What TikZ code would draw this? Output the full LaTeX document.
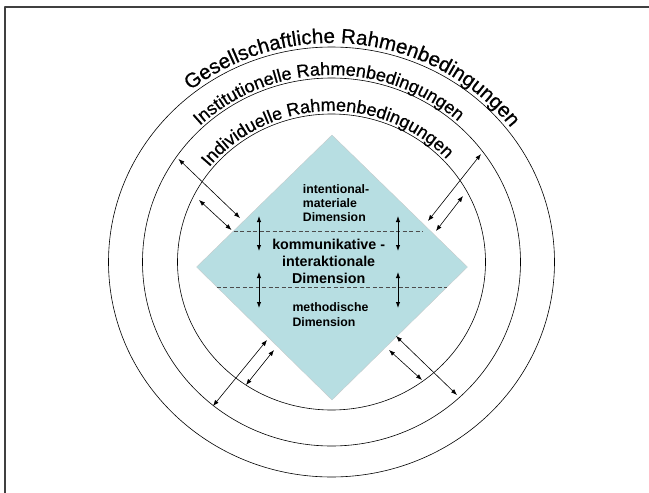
\documentclass[tikz,border=0pt]{standalone}
\usepackage{fontspec}
\setmainfont{Liberation Sans}
\newfontfamily\arcfont[FakeBold=0.6]{Liberation Sans}
\usetikzlibrary{decorations.text,arrows.meta}
\definecolor{diamondfill}{RGB}{183,222,226}

\newcommand{\printArc}[5]{\path [decorate, decoration={text along path, text align=center,
    text={|\arcfont\fontsize{#4}{#4}\selectfont|#5}}]
  (ctr) ++({#3+75}:#1 and #2) arc [start angle={#3+75}, end angle={#3-75}, x radius=#1, y radius=#2];}

\begin{document}
\begin{tikzpicture}[x=1pt,y=1pt,line join=round,>={Latex[length=6pt,width=4.5pt]},
    dimtext/.style={inner sep=0pt,font=\fontsize{12.3}{14.1}\selectfont\bfseries},
    dimsep/.style={draw=black!70,line width=0.7pt,dash pattern=on 4pt off 2.5pt},
    link/.style={<->,line width=0.6pt},
    vlink/.style={<->,line width=1pt}]
  \useasboundingbox (0,0) rectangle (649,-493);
  \coordinate (ctr) at (331.5,-262);
  \draw [line width=1.5pt,black!75] (5,-493) -- (5,-7) -- (649,-7);

  % diamond
  \coordinate (dtop) at (332,-135);
  \coordinate (dright) at (467.5,-267);
  \coordinate (dbottom) at (332,-400);
  \coordinate (dleft) at (196.5,-267);
  \filldraw [fill=diamondfill, draw=gray!45, line width=0.3pt] (dtop) -- (dright) -- (dbottom) -- (dleft) -- cycle;
  \coordinate (sepAl) at (233.5,-231.7);
  \coordinate (sepAr) at (423,-231.7);
  \coordinate (sepBl) at (216.5,-287.7);
  \coordinate (sepBr) at (446.5,-287.7);
  \draw [dimsep] (sepAl) -- (sepAr);
  \draw [dimsep] (sepBl) -- (sepBr);

  % rings
  \foreach \rx/\ry in {223/215,189/184,154/148} {
      \draw [line width=0.6pt] (ctr) ellipse [x radius=\rx, y radius=\ry];
    }
  \printArc{227}{219}{83}{20.5}{Gesellschaftliche Rahmenbedingungen}
  \printArc{192}{187}{91}{18}{Institutionelle Rahmenbedingungen}
  \printArc{157}{151}{92}{18}{Individuelle Rahmenbedingungen}

  % dimensions (base = last line)
  \node [dimtext, align=left, anchor=base west] (intent) at (302.7,-221.7) {intentional-\\materiale\\Dimension};
  \node [dimtext, align=center, anchor=base, font=\fontsize{14.3}{17.1}\selectfont\bfseries] (komm) at (328.7,-283.3) {kommunikative -\\interaktionale\\Dimension};
  \node [dimtext, align=left, anchor=base west, font=\fontsize{12.3}{15.6}\selectfont\bfseries] (meth) at (292.3,-326.7) {methodische\\Dimension};

  % arrows
  \coordinate (vla1) at (259,-216);  \coordinate (vla2) at (259,-251);
  \coordinate (vlb1) at (259,-272);  \coordinate (vlb2) at (259,-308);
  \coordinate (vra1) at (398,-216);  \coordinate (vra2) at (398,-251);
  \coordinate (vrb1) at (398,-272);  \coordinate (vrb2) at (398,-308);
  \foreach \a/\b in {vla1/vla2,vlb1/vlb2,vra1/vra2,vrb1/vrb2} {
      \draw [vlink] (\a) -- (\b);
    }
  \coordinate (ulo1) at (178.5,-159);  \coordinate (ulo2) at (240,-218);
  \coordinate (uli1) at (199,-200);    \coordinate (uli2) at (231.5,-230);
  \coordinate (uro1) at (481,-154);    \coordinate (uro2) at (428,-221);
  \coordinate (uri1) at (463,-196);    \coordinate (uri2) at (436,-231);
  \coordinate (llo1) at (267,-340);    \coordinate (llo2) at (213,-406);
  \coordinate (lli1) at (274,-350);    \coordinate (lli2) at (246,-385);
  \coordinate (lro1) at (396,-336);    \coordinate (lro2) at (457,-395);
  \coordinate (lri1) at (389,-350);    \coordinate (lri2) at (422,-380);
  \foreach \a/\b in {ulo1/ulo2,uli1/uli2,uro1/uro2,uri1/uri2,llo1/llo2,lli1/lli2,lro1/lro2,lri1/lri2} {
      \draw [link] (\a) -- (\b);
    }
\end{tikzpicture}
\end{document}
